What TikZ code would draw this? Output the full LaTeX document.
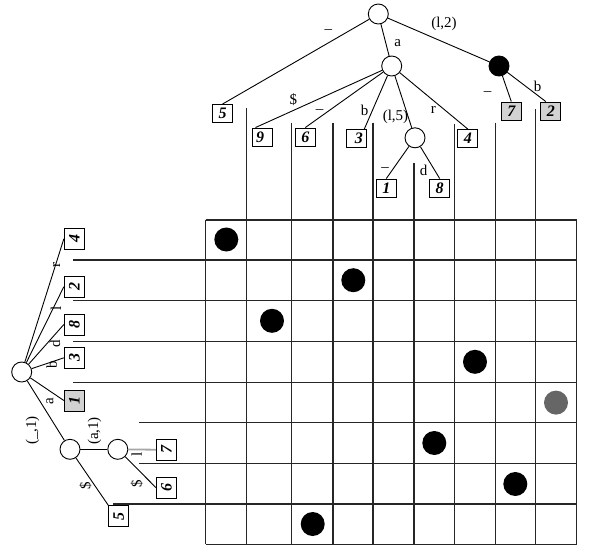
\documentclass[tikz,border=0pt]{standalone}
\usepackage{fontspec}
\usepackage{graphicx}
\setmainfont{Liberation Serif}
\usetikzlibrary{calc}
\newcommand{\myrot}[1]{\rotatebox{90}{#1}}
\begin{document}
\begin{tikzpicture}[x=1pt,y=-1pt,
  tnode/.style={circle,draw,fill=white,minimum size=20pt,inner sep=0pt,line width=0.9pt},
  bnode/.style={tnode,fill=black},
  leaf/.style={draw,fill=white,minimum width=20pt,minimum height=18pt,inner sep=0pt,
    font=\fontsize{16}{16}\selectfont\bfseries\itshape,line width=0.9pt},
  gleaf/.style={leaf,fill=gray!35},
  rleaf/.style={leaf,minimum width=20pt,minimum height=21pt},
  edge/.style={line width=0.9pt},
  gedge/.style={line width=1.8pt,draw=gray!70},
  lab/.style={inner sep=0pt,font=\fontsize{15}{15}\selectfont},
  rlab/.style={lab,rotate=90},
  gridline/.style={line width=1.1pt,draw=black!85},
  dot/.style={circle,fill=black,minimum size=24pt,inner sep=0pt},
  gdot/.style={dot,fill=black!60}
]
\useasboundingbox (0,0) rectangle (594,552);

% ---------- grid ----------
\draw[gridline] (205.7,220) -- (205.7,544.3);
\draw[gridline] (576.7,220) -- (576.7,544.3);
\foreach \x/\t in {246.7/108,291.7/122.7,333/122.7,373/122.7,414/162.7,454.3/124,495.3/122.7,535.3/109}
  \draw[gridline] (\x,\t) -- (\x,544.3);
\draw[gridline] (205.7,220) -- (576.7,220);
\draw[gridline] (205.7,544.3) -- (576.7,544.3);
\foreach \y/\s in {260/73,300.7/73,341.7/73,382.3/73,422.3/139.3,463.3/139.3,504/113.3}
  \draw[gridline] (\s,\y) -- (576.7,\y);

% ---------- dots ----------
\node[dot] (d1) at (226.3,239.5) {};
\node[dot] (d2) at (353.3,280.2) {};
\node[dot] (d3) at (272,320.8) {};
\node[dot] (d4) at (475,361.8) {};
\node[gdot] (d5) at (556,402.6) {};
\node[dot] (d6) at (434.3,443) {};
\node[dot] (d7) at (515.3,484) {};
\node[dot] (d8) at (312.7,524) {};

% ---------- top tree ----------
\node[tnode] (r) at (378.3,14) {};
\node[tnode] (a) at (391.7,66) {};
\node[bnode] (k) at (499,66) {};
\node[tnode] (f) at (415,137.8) {};
\node[leaf] (t5) at (222.5,113.5) {5};
\node[leaf] (t9) at (262.5,137) {9\hspace*{5pt}};
\node[leaf] (t6) at (305.3,137) {6};
\node[leaf] (t3) at (356.3,138.5) {\hspace*{5pt}3};
\node[leaf] (t4) at (467.8,138.5) {4};
\node[gleaf] (t7) at (511.3,111) {7};
\node[gleaf] (t2) at (550.8,111) {2};
\node[leaf] (t1) at (386.3,188) {1};
\node[leaf] (t8) at (439.7,188) {8};

\draw[edge] (r) -- (t5.north);
\draw[edge] (r) -- (a);
\draw[edge] (r) -- (k);
\draw[edge] (a) -- ($(t9.north)+(-7,0)$);
\draw[edge] (a) -- (t6.north);
\draw[edge] (a) -- ($(t3.north)+(8,0)$);
\draw[edge] (a) -- (f);
\draw[edge] (a) -- (t4.north);
\draw[edge] (k) -- (t7.north);
\draw[edge] (k) -- ($(t2.north)+(-5,0)$);
\draw[edge] (f) -- (t1.north);
\draw[edge] (f) -- (t8.north);

\node[lab,anchor=base] (lu5) at (328.3,28.5) {\_};
\node[lab] (la) at (397.7,43) {a};
\node[lab] (l12) at (444,24) {(l,2)};
\node[lab] (lb2) at (537.7,86) {b};
\node[lab,anchor=base] (lu7) at (487.7,90.2) {\_};
\node[lab] (lds) at (293.3,100) {\$};
\node[lab,anchor=base] (lu6) at (319.5,108.2) {\_};
\node[lab] (lb3) at (364.5,110) {b};
\node[lab] (l15) at (395.5,117) {(l,5)};
\node[lab] (lr) at (433.3,110) {r};
\node[lab,anchor=base] (lu1) at (385,166.8) {\_};
\node[lab] (ldd) at (423.5,170) {d};

% ---------- left tree ----------
\node[tnode] (R) at (21.7,372) {};
\node[tnode] (U) at (70,449.3) {};
\node[tnode] (A) at (117.8,449.3) {};
\node[rleaf] (L4) at (74.3,238.8) {\myrot{4}};
\node[rleaf] (L2) at (74.3,286.7) {\myrot{2}};
\node[rleaf] (L8) at (74.3,324.5) {\myrot{8}};
\node[rleaf] (L3) at (74.3,357.8) {\myrot{3}};
\node[rleaf,fill=gray!35] (L1) at (74.3,400.5) {\myrot{1}};
\node[rleaf] (L7) at (166.3,449.7) {\myrot{7}};
\node[rleaf] (L6) at (166.3,487.5) {\myrot{6}};
\node[rleaf] (L5) at (118.8,516.3) {\myrot{5}};

\draw[edge] (R) -- (L4.west);
\draw[edge] (R) -- (L2.west);
\draw[edge] (R) -- (L8.west);
\draw[edge] (R) -- (L3.west);
\draw[edge] (R) -- (L1.west);
\draw[edge] (R) -- (U);
\draw[edge] (U) -- (A);
\draw[gedge] (A) -- (L7.west);
\draw[edge] (A) -- (L6.west);
\draw[edge] (U) -- (L5.north west);

\node[rlab] (mr) at (56.5,265) {r};
\node[rlab] (ml) at (56,308) {l};
\node[rlab] (md) at (55,343.3) {d};
\node[rlab] (mb) at (51.7,365) {b};
\node[rlab] (ma) at (50,401) {a};
\node[rlab] (mu1) at (32.5,430.5) {(\_,1)};
\node[rlab] (ma1) at (94.5,431) {(a,1)};
\node[rlab] (ml7) at (136.7,454) {l};
\node[rlab] (ms6) at (136.7,483.3) {\$};
\node[rlab] (ms5) at (85.5,486) {\$};
\end{tikzpicture}
\end{document}
